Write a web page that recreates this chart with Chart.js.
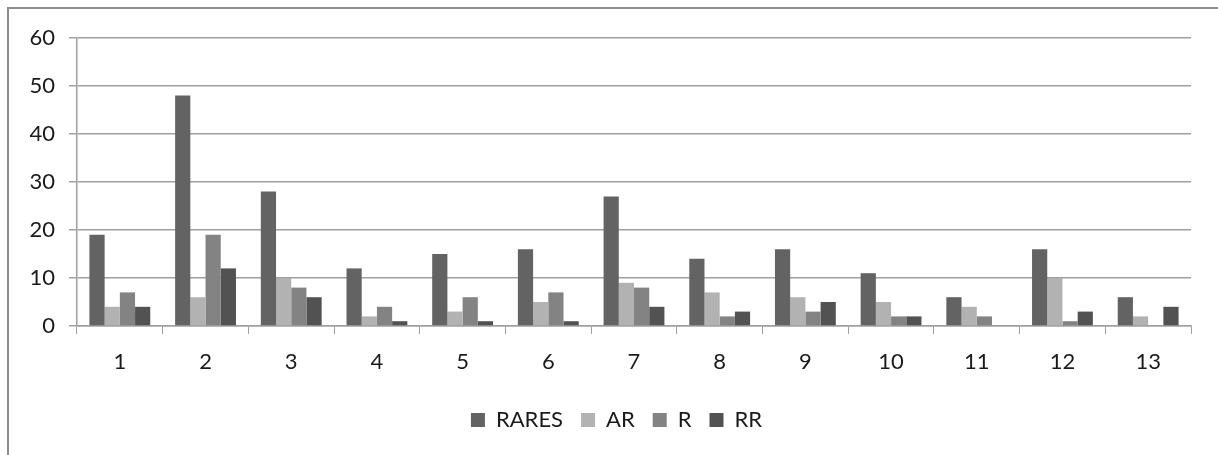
<!DOCTYPE html>
<html>
<head>
<meta charset="utf-8">
<script src="https://cdn.jsdelivr.net/npm/chart.js@4/dist/chart.umd.min.js"></script>
<style>
    body { margin: 0; background: #fff; overflow: hidden; }
    #wrap { position: relative; width: 1218px; height: 455px; }
    #frame { position: absolute; left: 7px; top: 7px; width: 1400px; height: 600px; border: 2px solid #8c8c8c; pointer-events: none; }
    canvas { position: absolute; left: 0; top: 0; }
</style>
</head>
<body>
<div id="wrap">
    <canvas id="chart" width="1218" height="455"></canvas>
    <div id="frame"></div>
</div>
<script>
// values
const groups = ['1', '2', '3', '4', '5', '6', '7', '8', '9', '10', '11', '12', '13'];
const rares = [19, 48, 28, 12, 15, 16, 27, 14, 16, 11, 6, 16, 6];
const ar = [4, 6, 10, 2, 3, 5, 9, 7, 6, 5, 4, 10, 2];
const r = [7, 19, 8, 4, 6, 7, 8, 2, 3, 2, 2, 1, 0];
const rr = [4, 12, 6, 1, 1, 1, 4, 3, 5, 2, 0, 3, 4];
const yTicks = [0, 10, 20, 30, 40, 50, 60];

const gridGray = '#a0a0a0';
const font = { family: 'Lato, "Open Sans", sans-serif', size: 22 };

function makeSet(label, values, color) {
    return {
        label: label,
        data: values,
        backgroundColor: color,
        borderColor: color,
        borderWidth: 0,
        categoryPercentage: 0.71,
        barPercentage: 1.0
    };
}

// legend sits a bit right of the canvas centre in the original
const legendShift = {
    id: 'legendShift',
    afterLayout(chart) {
        chart.legend.left += 21;
        chart.legend.right += 21;
    }
};

new Chart(document.querySelector('#chart').getContext('2d'), {
    type: 'bar',
    data: {
        labels: groups,
        datasets: [
            makeSet('RARES', rares, '#636363'),
            makeSet('AR', ar, '#b2b2b2'),
            makeSet('R', r, '#838383'),
            makeSet('RR', rr, '#525252')
        ]
    },
    options: {
        responsive: false,
        animation: false,
        layout: { padding: { top: 38, right: 27, left: 0, bottom: 14 } },
        plugins: {
            tooltip: { enabled: false },
            legend: {
                position: 'bottom',
                labels: {
                    color: '#1a1a1a',
                    font: font,
                    boxWidth: 14,
                    boxHeight: 14,
                    padding: 18
                }
            }
        },
        scales: {
            x: {
                afterFit: scale => { scale.height = 65; },
                grid: { drawOnChartArea: false, offset: true, tickLength: 8, color: gridGray },
                border: { color: gridGray, width: 1.5 },
                ticks: { color: '#1a1a1a', font: font, padding: 15 }
            },
            y: {
                min: 0,
                max: 60,
                afterFit: scale => { scale.width = 77; },
                afterBuildTicks: scale => { scale.ticks = yTicks.map(v => ({ value: v })); },
                grid: { color: gridGray, lineWidth: 1.5, tickLength: 8 },
                border: { color: gridGray, width: 1.5 },
                ticks: { color: '#1a1a1a', font: font, padding: 14 }
            }
        }
    },
    plugins: [legendShift]
});
</script>
</body>
</html>
